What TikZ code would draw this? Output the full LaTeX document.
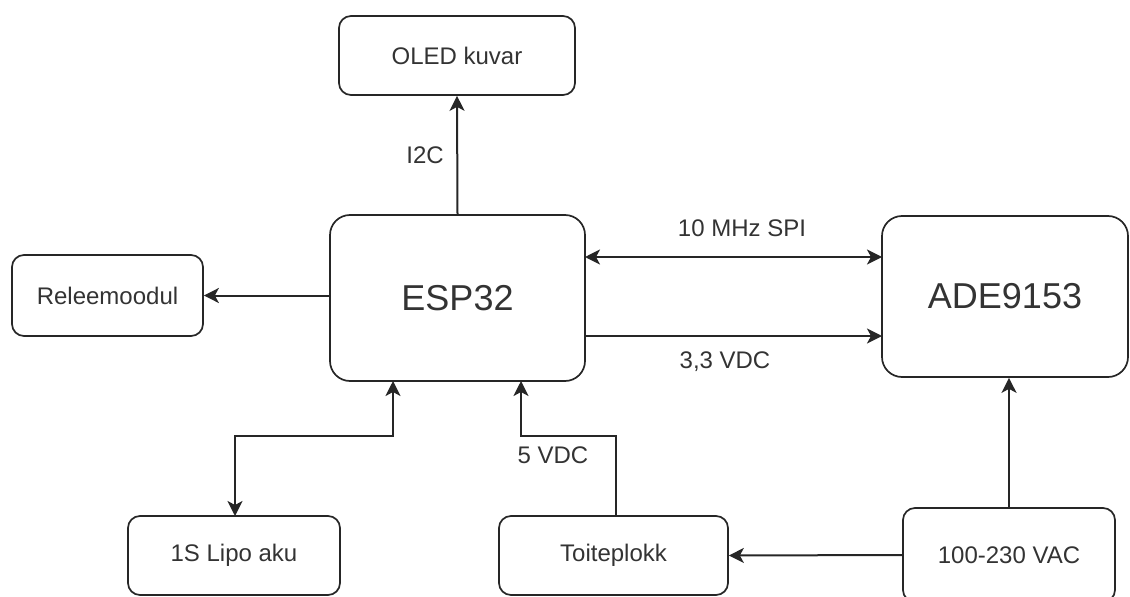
\documentclass[tikz,border=0pt]{standalone}
\usepackage{fontspec}
\setmainfont{Liberation Sans}
\usetikzlibrary{arrows.meta}
\definecolor{ln}{HTML}{262626}
\definecolor{tx}{HTML}{333333}
\tikzset{
  box/.style={draw=ln,line width=1.7pt,rounded corners=12pt,text=tx,
    font=\fontsize{24}{28}\selectfont,inner sep=0pt},
  bigbox/.style={box,rounded corners=20pt,font=\fontsize{36}{40}\selectfont},
  tip/.tip={Stealth[length=15pt,width=15pt,inset=4pt]},
  conn/.style={draw=ln,line width=2pt,-tip},
  bicon/.style={draw=ln,line width=2pt,tip-tip},
  lbl/.style={text=tx,font=\fontsize{24}{28}\selectfont,inner sep=0pt}
}
\begin{document}
\begin{tikzpicture}[x=1pt,y=-1pt]
\useasboundingbox (0,0) rectangle (1130,597);
\node[box,minimum width=236pt,minimum height=79pt] (oled) at (457,55.5) {OLED kuvar};
\node[bigbox,minimum width=255pt,minimum height=166pt] (esp) at (457.5,298) {ESP32};
\node[bigbox,minimum width=246pt,minimum height=161pt] (ade) at (1005,296.5) {ADE9153};
\node[box,minimum width=191pt,minimum height=81pt] (rel) at (107.5,295.5) {Releemoodul};
\node[box,minimum width=212pt,minimum height=79pt] (lipo) at (234,555.5) {1S Lipo aku};
\node[box,minimum width=229pt,minimum height=79pt] (toite) at (613.5,555.5) {Toiteplokk};
\node[box,minimum width=212pt,minimum height=94pt] (vac) at (1009,555) {100-230 VAC};

\coordinate (espSPI) at (585,257);
\coordinate (adeSPI) at (882,257);
\coordinate (espV) at (585,336);
\coordinate (adeV) at (882,336);
\coordinate (espL) at (393,381);
\coordinate (lipoT) at (235,516);
\coordinate (espT) at (521,381);
\coordinate (toiteT) at (616,516);

\draw[conn] (esp.north) -- (oled.south);
\node[lbl] (i2c) at (425,155) {I2C};
\draw[conn] (esp.west |- rel.east) -- (rel.east);
\draw[bicon] (espSPI) -- (adeSPI);
\node[lbl] (spi) at (742,228) {10 MHz SPI};
\draw[conn] (espV) -- (adeV);
\node[lbl] (v33) at (725,362) {3,3 VDC};
\draw[bicon] (lipoT) |- (espL |- 0,436) -- (espL);
\draw[conn] (toiteT) |- (espT |- 0,436) -- (espT);
\node[lbl] (v5) at (553,455) {5 VDC};
\draw[conn] (vac.north) -- (vac.north |- ade.south);
\draw[conn] (vac.west) -- (toite.east);
\end{tikzpicture}
\end{document}
